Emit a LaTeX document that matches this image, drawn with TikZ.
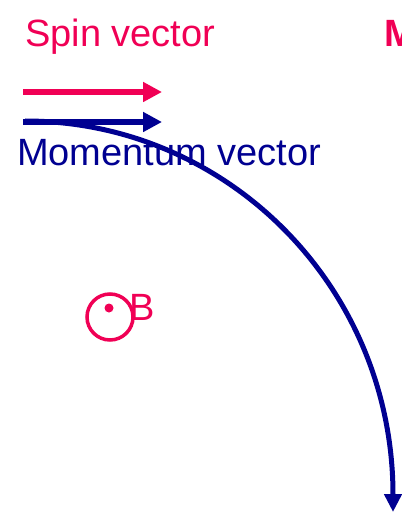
\documentclass[tikz,border=0pt]{standalone}
\usepackage{fontspec}
\setmainfont{Liberation Sans}
\usetikzlibrary{arrows.meta}
\definecolor{spinred}{RGB}{240,0,85}
\definecolor{momblue}{RGB}{0,0,145}
\begin{document}
\begin{tikzpicture}[
  x=1pt, y=-1pt,
  every node/.style={inner sep=0pt, font=\fontsize{38}{40}\selectfont},
  vec/.style={line width=6pt, -{Triangle[length=19pt,width=19pt]}},
  track/.style={draw=momblue, line width=5pt, -{Triangle[length=18pt,width=17pt]}}
]
\useasboundingbox (0,0) rectangle (401,513);
\node[anchor=base west, text=spinred] (spinlbl) at (25,47) {Spin vector};
\node[anchor=base west, text=spinred, font=\fontsize{38}{40}\selectfont\bfseries] (mlbl) at (384,47) {M};
\coordinate (spinA) at (23,92);
\coordinate (spinB) at (162,92);
\coordinate (momA) at (23,122);
\coordinate (momB) at (162,122);
\draw[vec, spinred] (spinA) -- (spinB);
\draw[vec, momblue] (momA) -- (momB);
\node[anchor=base west, text=momblue] (momlbl) at (17,165) {Momentum vector};
% path of the particle
\coordinate (orbA) at (25,121);
\coordinate (orbB) at (393,495);
\coordinate (orbC) at (393,512);
\draw[track] (orbA) .. controls (228,121) and (393,288) .. (orbB) -- (orbC);
% field out of the page
\node[circle, draw=spinred, line width=3.5pt, minimum size=46pt] (bcirc) at (110,317) {};
\node[circle, fill=spinred, minimum size=9pt] (bdot) at (109,308) {};
\node[anchor=base west, text=spinred] (blbl) at (129,320) {B};
\end{tikzpicture}
\end{document}
